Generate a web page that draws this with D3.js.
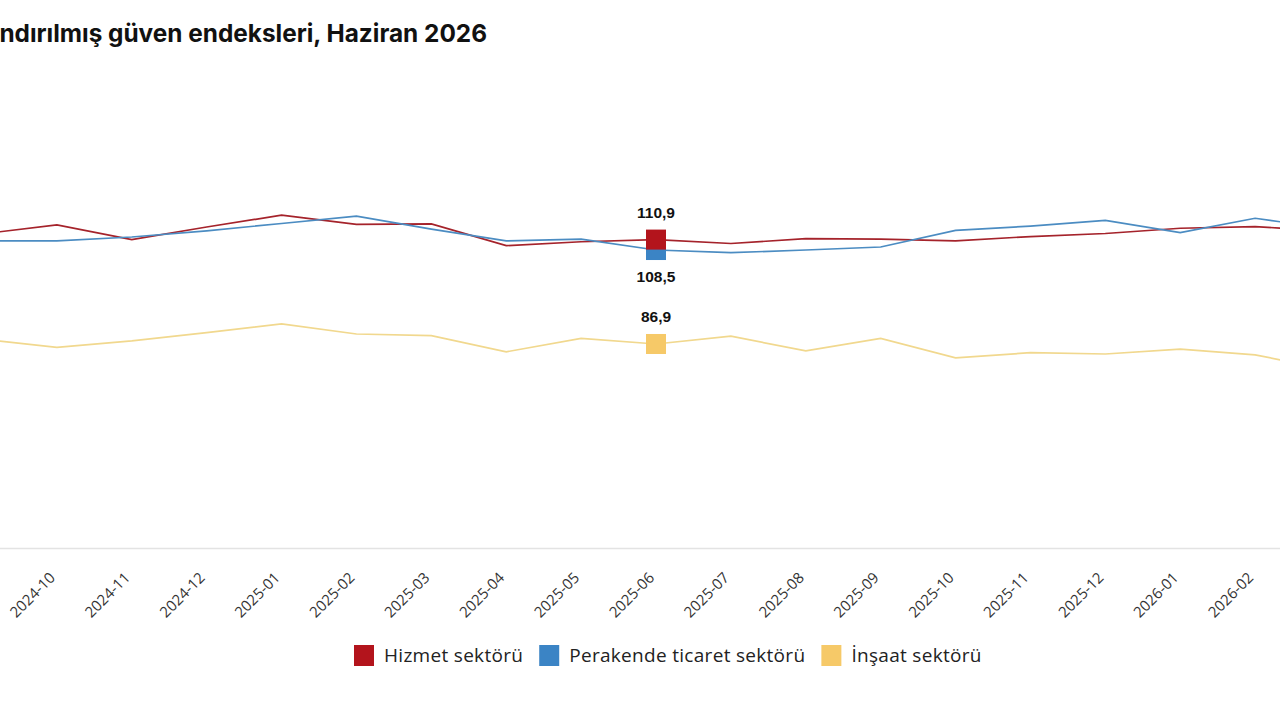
<!DOCTYPE html>
<html>
<head>
<meta charset="utf-8">
<script src="https://cdn.jsdelivr.net/npm/d3@7"></script>
<style>
  html, body { margin: 0; padding: 0; background: #fff; overflow: hidden; }
</style>
</head>
<body>
<div id="chart"></div>
<script>
// Months shown (first and last sit just outside the visible area)
var months = ["2024-09", "2024-10", "2024-11", "2024-12", "2025-01", "2025-02", "2025-03",
    "2025-04", "2025-05", "2025-06", "2025-07", "2025-08", "2025-09", "2025-10",
    "2025-11", "2025-12", "2026-01", "2026-02", "2026-03"];

var hizmet    = [112.2, 114.3, 110.9, 113.8, 116.5, 114.4, 114.5, 109.5, 110.4, 110.9,
                 110.0, 111.1, 111.0, 110.6, 111.6, 112.3, 113.5, 113.9, 112.8];
var perakende = [110.6, 110.6, 111.5, 112.9, 114.6, 116.3, 113.3, 110.6, 111.0, 108.5,
                 107.9, 108.5, 109.2, 113.0, 114.0, 115.3, 112.5, 115.8, 113.4];
var insaat    = [88.0, 86.1, 87.6, 89.5, 91.5, 89.2, 88.8, 85.1, 88.2, 86.9,
                 88.7, 85.3, 88.2, 83.7, 84.9, 84.6, 85.7, 84.4, 81.0];

var seriesNames = ["Hizmet sektörü", "Perakende ticaret sektörü", "İnşaat sektörü"];
var highlightMonth = "2025-06";
var yDomain = [40, 140];

var title = "Mevsimsellikten arındırılmış güven endeksleri, Haziran 2026";
var titleVisible = "ndırılmış güven endeksleri, Haziran 2026";  // part that shows inside the window

var width = 1280, height = 720;

var series = [
    { name: seriesNames[0], values: hizmet,    line: "#a5232b", fill: "#b3141c" },
    { name: seriesNames[1], values: perakende, line: "#4b8cc2", fill: "#3b84c5" },
    { name: seriesNames[2], values: insaat,    line: "#f1d88e", fill: "#f6c968" }
];

const svg = d3.select("#chart")
    .append("svg")
    .attr("width", width)
    .attr("height", height)
    .style("font-family", "'Open Sans', sans-serif");

// Scales - the chart is wider than the window, so the point scale runs past both edges
var x = d3.scalePoint()
    .domain(months)
    .range([-18, 1330]);
var y = d3.scaleLinear()
    .domain(yDomain)
    .range([548, 113]);

// Title (left part cut off by the window, like the screenshot)
var titleText = svg.append("text")
    .attr("x", 487)
    .attr("y", 42)
    .attr("text-anchor", "end")
    .style("font-family", "Inter, sans-serif")
    .style("font-size", "20px")
    .style("font-weight", 700)
    .attr("fill", "#111")
    .text(titleVisible);
// scale font so the visible part spans the same width as in the picture
var tw = titleText.node().getComputedTextLength();
titleText.style("font-size", (20 * 488 / tw) + "px").text(title);

// X axis
var xAxis = g => g
    .attr("transform", `translate(0,${y(yDomain[0])})`)
    .call(d3.axisBottom(x).tickValues(months.slice(1, -1)).tickSize(0).tickSizeOuter(0))
    .call(g => g.select(".domain")
        .attr("stroke", "#e3e3e3")
        .attr("stroke-width", 1.5))
    .call(g => g.selectAll(".tick text")
        .attr("fill", "#333")
        .style("font-family", "'Open Sans', sans-serif")
        .style("font-size", "15px")
        .style("font-weight", 500)
        .attr("text-anchor", "end")
        .attr("x", null)
        .attr("y", null)
        .attr("dy", "0.35em")
        .attr("transform", "translate(-5,27) rotate(-45)"));

svg.append("g").call(xAxis);

// Lines
var line = d3.line()
    .x((d, i) => x(months[i]))
    .y(d => y(d));

svg.append("g")
  .selectAll("path")
  .data(series)
  .join("path")
    .attr("fill", "none")
    .attr("stroke", d => d.line)
    .attr("stroke-width", 1.7)
    .attr("d", d => line(d.values));

// Highlighted month markers
var hi = months.indexOf(highlightMonth);
var size = 20;
svg.append("g")
  .selectAll("rect")
  .data(series.slice().reverse())
  .join("rect")
    .attr("x", x(highlightMonth) - size / 2)
    .attr("y", d => y(d.values[hi]) - size / 2)
    .attr("width", size)
    .attr("height", size)
    .attr("fill", d => d.fill);

// Value labels
var fmt = v => d3.format(".1f")(v).replace(".", ",");
var labelOffsets = [-22, 32, -22];
svg.append("g")
  .selectAll("text")
  .data(series)
  .join("text")
    .attr("x", x(highlightMonth))
    .attr("y", (d, i) => y(d.values[hi]) + labelOffsets[i])
    .attr("text-anchor", "middle")
    .style("font-family", "'Liberation Sans', Arial, sans-serif")
    .style("font-size", "15.5px")
    .style("font-weight", "bold")
    .attr("fill", "#111")
    .text(d => fmt(d.values[hi]));

// Legend
var legend = svg.append("g")
    .attr("transform", "translate(354,645)");
var lx = 0;
series.forEach(function (s) {
    var item = legend.append("g").attr("transform", `translate(${lx},0)`);
    item.append("rect")
        .attr("width", 20)
        .attr("height", 21)
        .attr("fill", s.fill);
    var t = item.append("text")
        .attr("x", 30)
        .attr("y", 17)
        .style("font-family", "'Open Sans', sans-serif")
        .style("font-size", "19px")
        .style("letter-spacing", "0.3px")
        .attr("fill", "#222")
        .text(s.name);
    lx += 30 + t.node().getComputedTextLength() + 16;
});
</script>
</body>
</html>
